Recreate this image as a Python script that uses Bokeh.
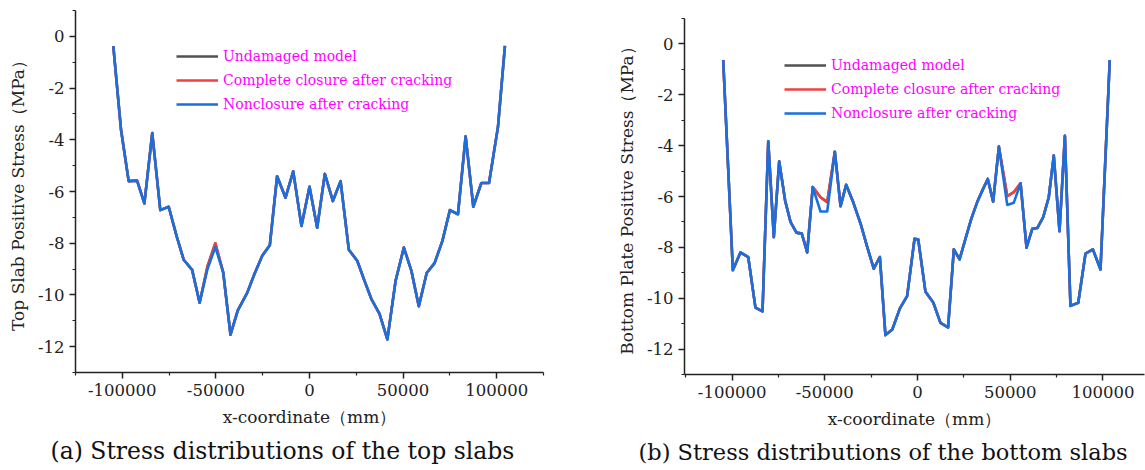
from bokeh.plotting import figure
from bokeh.models import Range1d, FixedTicker, Legend, LegendItem, Title
from bokeh.layouts import row
from bokeh.embed import file_html
from bokeh.resources import INLINE

# ---------------- data ----------------
x_top = [-104800, -100700, -96600, -92100, -88200, -84000, -79700, -75200, -71100, -67200,
         -62700, -58700, -54500, -50300, -46100, -42200, -38300, -33300, -29400, -25300,
         -21200, -17300, -12800, -8700, -4300, 0, 4100, 8200, 12500, 16600,
         21000, 25500, 29000, 33000, 37400, 41600, 46000, 50400, 54400, 58400,
         62600, 66800, 71000, 75000, 79300, 83400, 87500, 91800, 95900, 100700, 104400]
top_nonclosure = [-0.38, -3.6, -5.6, -5.58, -6.46, -3.74, -6.72, -6.59, -7.7, -8.64,
                  -9.03, -10.3, -9.0, -8.15, -9.13, -11.54, -10.6, -9.92, -9.19, -8.49,
                  -8.08, -5.41, -6.24, -5.22, -7.33, -5.82, -7.4, -5.32, -6.37, -5.6,
                  -8.25, -8.68, -9.38, -10.15, -10.73, -11.72, -9.45, -8.17, -9.06, -10.44,
                  -9.15, -8.77, -7.91, -6.72, -6.88, -3.87, -6.59, -5.67, -5.67, -3.49, -0.37]
top_closure = [-0.38, -3.6, -5.6, -5.58, -6.46, -3.74, -6.72, -6.59, -7.7, -8.64,
               -9.03, -10.3, -8.9, -8.0, -9.13, -11.54, -10.6, -9.92, -9.19, -8.49,
               -8.08, -5.41, -6.24, -5.22, -7.33, -5.82, -7.4, -5.32, -6.37, -5.6,
               -8.25, -8.68, -9.38, -10.15, -10.73, -11.72, -9.45, -8.17, -9.06, -10.44,
               -9.15, -8.77, -7.91, -6.72, -6.88, -3.87, -6.59, -5.67, -5.67, -3.49, -0.37]
top_undamaged = list(top_closure)

x_bot = [-104800, -99600, -95500, -91300, -87400, -83600, -80500, -77500, -74600, -71400,
         -68500, -65300, -62400, -59500, -56500, -52300, -48700, -44600, -41500, -38500,
         -34700, -30700, -27100, -23600, -20300, -17300, -13600, -9500, -5600, -1600,
         400, 4300, 8500, 12400, 16500, 19600, 22700, 25900, 29000, 32200,
         35200, 37900, 40800, 43900, 48400, 51900, 55600, 58800, 61900, 64600,
         67800, 70800, 73500, 76600, 79500, 82500, 86700, 90600, 94600, 98700, 103700]
bot_nonclosure = [-0.63, -8.9, -8.2, -8.38, -10.37, -10.52, -3.83, -7.6, -4.62, -6.16,
                  -7.0, -7.42, -7.46, -8.2, -5.63, -6.59, -6.59, -4.24, -6.38, -5.54,
                  -6.22, -7.07, -7.99, -8.84, -8.38, -11.45, -11.23, -10.4, -9.92, -7.66,
                  -7.69, -9.75, -10.17, -10.97, -11.15, -8.08, -8.47, -7.66, -6.88, -6.22,
                  -5.73, -5.31, -6.2, -4.04, -6.33, -6.25, -5.48, -8.01, -7.27, -7.24,
                  -6.81, -6.03, -4.39, -7.36, -3.61, -10.3, -10.18, -8.25, -8.08, -8.87, -0.63]
bot_closure = [-0.63, -8.9, -8.2, -8.38, -10.37, -10.52, -3.83, -7.6, -4.62, -6.16,
               -7.0, -7.42, -7.46, -8.2, -5.63, -6.03, -6.22, -4.24, -6.38, -5.54,
               -6.22, -7.07, -7.99, -8.84, -8.38, -11.45, -11.23, -10.4, -9.92, -7.66,
               -7.69, -9.75, -10.17, -10.97, -11.15, -8.08, -8.47, -7.66, -6.88, -6.22,
               -5.73, -5.31, -6.2, -4.04, -5.99, -5.83, -5.48, -8.01, -7.27, -7.24,
               -6.81, -6.03, -4.39, -7.36, -3.61, -10.3, -10.18, -8.25, -8.08, -8.87, -0.63]
bot_undamaged = list(bot_closure)

series_names = ["Undamaged model", "Complete closure after cracking", "Nonclosure after cracking"]
series_colors = ["#515151", "#F14040", "#1A6FDF"]

x_ticks = [-100000, -50000, 0, 50000, 100000]
x_tick_labels = ["-100000", "-50000", "0", "50000", "100000"]
x_minor = [-125000, -75000, -25000, 25000, 75000, 125000]
y_ticks = [-12, -10, -8, -6, -4, -2, 0]
y_tick_labels = ["-12", "-10", "-8", "-6", "-4", "-2", "0"]
y_minor = [-13, -11, -9, -7, -5, -3, -1, 1]

FONT = "DejaVu Serif"


def make_panel(width, borders, xr, x, ys, ylabel, caption, legend_loc, cap_offset, cap_size):
    left, right, top, bottom = borders
    p = figure(width=width, height=470, x_range=Range1d(*xr), y_range=Range1d(-13, 1),
               output_backend="svg", toolbar_location=None,
               min_border_left=left, min_border_right=right,
               min_border_top=top, min_border_bottom=bottom)
    p.frame_align = False
    p.grid.visible = False
    p.outline_line_color = None
    p.background_fill_color = "white"
    p.border_fill_color = "white"

    for ax in (p.xaxis[0], p.yaxis[0]):
        ax.axis_line_width = 1.5
        ax.axis_line_color = "#222222"
        ax.major_tick_line_color = "#222222"
        ax.minor_tick_line_color = "#222222"
        ax.major_tick_line_width = 1.5
        ax.minor_tick_line_width = 1.2
        ax.major_tick_in = 0
        ax.major_tick_out = 6
        ax.minor_tick_in = 0
        ax.minor_tick_out = 3
        ax.major_label_text_font = FONT
        ax.major_label_text_font_size = "16.5px"
        ax.major_label_text_color = "#222222"
        ax.axis_label_text_font = FONT
        ax.axis_label_text_font_size = "17px"
        ax.axis_label_text_font_style = "normal"
        ax.axis_label_text_color = "#222222"

    p.xaxis[0].ticker = FixedTicker(ticks=x_ticks, minor_ticks=x_minor)
    p.xaxis[0].major_label_overrides = dict(zip(x_ticks, x_tick_labels))
    p.yaxis[0].ticker = FixedTicker(ticks=y_ticks, minor_ticks=y_minor)
    p.yaxis[0].major_label_overrides = dict(zip(y_ticks, y_tick_labels))
    p.xaxis[0].axis_label = "x-coordinate（mm）"
    p.yaxis[0].axis_label = ylabel
    p.xaxis[0].axis_label_standoff = 8
    p.yaxis[0].axis_label_standoff = 7

    rends = []
    for yv, c in zip(ys, series_colors):
        r = p.line(x, yv, line_color=c, line_width=2.6, line_join="round")
        rends.append(r)

    items = [LegendItem(label=n, renderers=[r]) for n, r in zip(series_names, rends)]
    leg = Legend(items=items, location=legend_loc, glyph_width=42, glyph_height=20,
                 label_height=20, spacing=4, padding=0, margin=0,
                 border_line_color=None, background_fill_alpha=0,
                 label_text_color="#FF00FF", label_text_font=FONT,
                 label_text_font_size="14px", label_standoff=5)
    p.add_layout(leg)

    cap = Title(text=caption, align="left", offset=cap_offset, text_font=FONT,
                text_font_size=cap_size, text_font_style="normal", text_color="#111111",
                standoff=11)
    p.add_layout(cap, "below")
    return p


p1 = make_panel(610, (75, 67, 10, 94), (-125000, 125000), x_top,
                [top_undamaged, top_closure, top_nonclosure],
                "Top Slab Positive Stress（MPa）",
                "(a) Stress distributions of the top slabs", (101, 258), -25, "23.5px")
p2 = make_panel(535, (74, 1, 18, 95), (-125675, 122437), x_bot,
                [bot_undamaged, bot_closure, bot_nonclosure],
                "Bottom Plate Positive Stress（MPa）",
                "(b) Stress distributions of the bottom slabs", (100, 251), -46, "22.5px")

layout = row(p1, p2)
open("out.html", "w").write(file_html(layout, INLINE))
